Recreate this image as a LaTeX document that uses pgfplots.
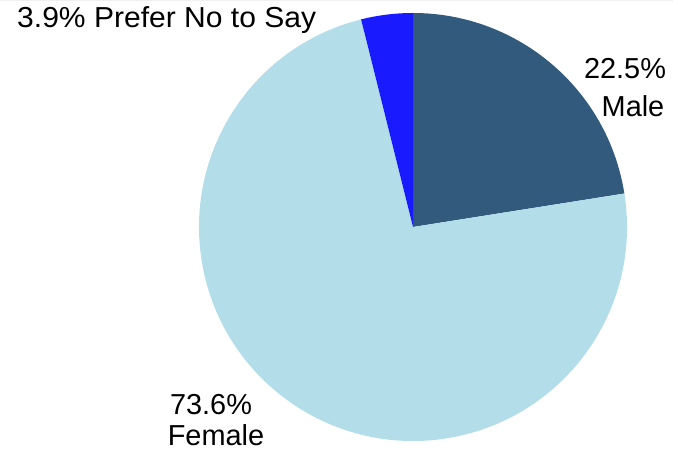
\documentclass[border=0pt]{standalone}
\usepackage{pgfplots}
\pgfplotsset{compat=1.18}
\usepackage{pgfplotstable}
\usepackage{fontspec}
\setmainfont{Liberation Sans}
\definecolor{male}{HTML}{315A7C}
\definecolor{female}{HTML}{B3DDE8}
\definecolor{pnts}{HTML}{1A1AFF}
\pgfplotstableread{
label value
Male 22.5
Female 73.6
Prefer 3.9
}\piedata
\begin{document}
\begin{tikzpicture}
\pgfplotstablegetelem{0}{value}\of\piedata \let\vA\pgfplotsretval
\pgfplotstablegetelem{1}{value}\of\piedata \let\vB\pgfplotsretval
\pgfplotstablegetelem{2}{value}\of\piedata \let\vC\pgfplotsretval
\pgfmathsetmacro{\aA}{90-3.6*\vA}
\pgfmathsetmacro{\aB}{\aA-3.6*\vB}
\pgfmathsetmacro{\aC}{\aB-3.6*\vC}
\begin{axis}[width=673bp,height=451bp,scale only axis,hide axis,
  xmin=0,xmax=673,ymin=0,ymax=451,clip=false]
\draw[color=gray!12,line width=1pt] (axis cs:0,450.5) -- (axis cs:673,450.5);
\fill[male] (axis cs:413,224) -- (axis cs:413,438) arc[start angle=90,end angle=\aA,radius=214bp] -- cycle;
\fill[female] (axis cs:413,224) -- ++(\aA:214bp) arc[start angle=\aA,end angle=\aB,radius=214bp] -- cycle;
\fill[pnts] (axis cs:413,224) -- ++(\aB:214bp) arc[start angle=\aB,end angle=\aC,radius=214bp] -- cycle;
\begin{scope}[every node/.style={font=\fontsize{29}{33}\selectfont,inner sep=0pt}]
\node[anchor=base west,xscale=1.04] at (axis cs:17,423) {3.9\% Prefer No to Say};
\node[anchor=base] at (axis cs:625,372) {22.5\%};
\node[anchor=base] at (axis cs:633,334) {Male};
\node[anchor=base] at (axis cs:211,36) {73.6\%};
\node[anchor=base] at (axis cs:216,6) {Female};
\end{scope}
\end{axis}
\pgfresetboundingbox
\useasboundingbox (current axis.south west) rectangle (current axis.north east);
\end{tikzpicture}
\end{document}
